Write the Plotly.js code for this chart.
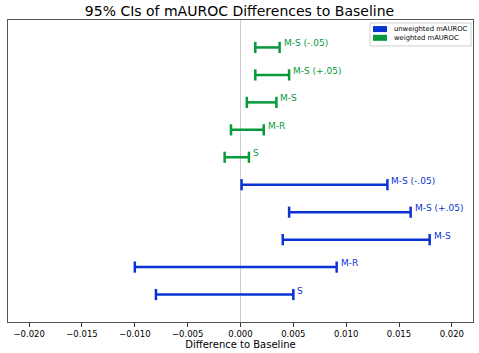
<!DOCTYPE html>
<html><head><meta charset="utf-8">
<script src="https://cdn.plot.ly/plotly-3.0.1.min.js"></script>
<style>body{margin:0;padding:0;background:#fff}#chart{width:479px;height:353px}</style>
</head><body><div id="chart"></div>
<script>
const labels = ["S", "M-R", "M-S", "M-S (+.05)", "M-S (-.05)"];
const unweightedLow  = [-0.0080, -0.0100, 0.0040, 0.0046, 0.0001];
const unweightedHigh = [ 0.0050,  0.0091, 0.0179, 0.0161, 0.0139];
const weightedLow    = [-0.0015, -0.0009, 0.0006, 0.0014, 0.0014];
const weightedHigh   = [ 0.0008,  0.0022, 0.0034, 0.0046, 0.0037];
const seriesNames = ["unweighted mAUROC", "weighted mAUROC"];
const xTicks = [-0.020, -0.015, -0.010, -0.005, 0.000, 0.005, 0.010, 0.015, 0.020];

const BLUE = "#0a33d4", GREEN = "#069a3a";
const colors = [BLUE, GREEN];
function build(lo, hi, offset) {
  const xs = [], ys = [];
  lo.forEach((v, i) => { xs.push(v, hi[i], null); ys.push(i + offset, i + offset, null); });
  return {xs, ys};
}
const u = build(unweightedLow, unweightedHigh, 0);
const w = build(weightedLow, weightedHigh, labels.length);
const traces = [
  {x: u.xs, y: u.ys, mode: "lines+markers", name: seriesNames[0], line: {color: BLUE, width: 2.5},
   marker: {symbol: "line-ns-open", size: 8, line: {color: BLUE, width: 2.5}}, hoverinfo: "skip"},
  {x: w.xs, y: w.ys, mode: "lines+markers", name: seriesNames[1], line: {color: GREEN, width: 2.5},
   marker: {symbol: "line-ns-open", size: 8, line: {color: GREEN, width: 2.5}}, hoverinfo: "skip"}
];
const annotations = [];
labels.forEach((t, i) => {
  annotations.push({x: unweightedHigh[i], y: i, text: t, showarrow: false, xanchor: "left", yanchor: "bottom",
    xshift: 2, yshift: -3, font: {family: "DejaVu Sans", size: 9, color: BLUE}});
  annotations.push({x: weightedHigh[i], y: i + labels.length, text: t, showarrow: false, xanchor: "left", yanchor: "bottom",
    xshift: 2, yshift: -3, font: {family: "DejaVu Sans", size: 9, color: GREEN}});
});
// manual matplotlib-style legend (paper coords)
const shapes = [
  {type: "line", xref: "x", yref: "paper", x0: 0, x1: 0, y0: 0, y1: 1, line: {color: "#cccccc", width: 1}, layer: "below"},
  {type: "rect", xref: "paper", yref: "paper", x0: 0.7785, x1: 0.9957, y0: 0.914, y1: 0.990,
   line: {color: "#d0d0d0", width: 1}, fillcolor: "rgba(255,255,255,0.9)"}
];
const legY = [0.970, 0.941];
seriesNames.forEach((n, k) => {
  shapes.push({type: "rect", xref: "paper", yref: "paper", x0: 0.785, x1: 0.815, y0: legY[k] - 0.010, y1: legY[k] + 0.010,
    line: {width: 0}, fillcolor: colors[k]});
  annotations.push({xref: "paper", yref: "paper", x: 0.826, y: legY[k], text: n, showarrow: false,
    xanchor: "left", yanchor: "middle", font: {family: "DejaVu Sans", size: 6.8, color: "#000"}});
});
const layout = {
  width: 479, height: 353,
  margin: {l: 8, r: 6, t: 20, b: 31},
  paper_bgcolor: "#fff", plot_bgcolor: "#fff",
  font: {family: "DejaVu Sans", color: "#000"},
  title: {text: "95% CIs of mAUROC Differences to Baseline", x: 0.5, xanchor: "center", y: 0.969, yanchor: "middle",
    font: {family: "DejaVu Sans", size: 14, color: "#000"}},
  xaxis: {range: [-0.022, 0.022], tickvals: xTicks, ticktext: xTicks.map(v => v.toFixed(3).replace("-", "\u2212")),
    showgrid: false, zeroline: false, ticks: "outside", ticklen: 3.5, tickcolor: "#333",
    showline: true, linecolor: "#555", linewidth: 1, mirror: true,
    tickfont: {family: "DejaVu Sans", size: 8.5, color: "#000"},
    title: {text: "Difference to Baseline", standoff: 2, font: {family: "DejaVu Sans", size: 10, color: "#000"}}},
  yaxis: {range: [-1, 10], showticklabels: false, ticks: "", showgrid: false, zeroline: false,
    showline: true, linecolor: "#555", linewidth: 1, mirror: true},
  shapes: shapes,
  annotations: annotations,
  showlegend: false
};
Plotly.newPlot("chart", traces, layout, {displayModeBar: false, staticPlot: true});
</script></body></html>
